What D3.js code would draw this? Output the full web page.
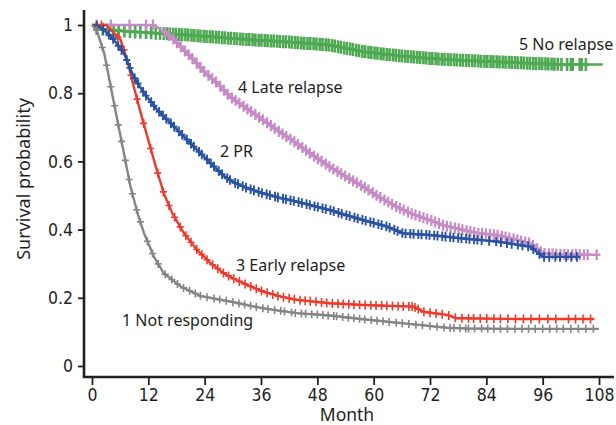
<!DOCTYPE html>
<html>
<head>
<meta charset="utf-8">
<script src="https://cdn.jsdelivr.net/npm/d3@7"></script>
<style>
  body { margin: 0; background: #fff; }
  svg { display: block; }
</style>
</head>
<body>
<div id="chart"></div>
<script>
// curve data (month, survival)
const grayT = [0,1,2.6,4,5.4,6.8,8.2,9.7,11.1,13.2,15.3,18.9,23.2,29.4,36.5,43.6,50.7,57.8,68.5,75.6,80,90,100,108];
const grayS = [1,0.985,0.917,0.819,0.721,0.624,0.526,0.448,0.389,0.32,0.272,0.233,0.205,0.189,0.169,0.155,0.148,0.137,0.122,0.112,0.11,0.109,0.109,0.109];

const redT = [0,3,4.7,6.1,7.5,8.9,10.4,11.8,13.6,15.3,17.1,19.6,22.4,25.3,28.1,30.3,33,36.5,40,43.6,50.7,57.8,68.5,70.6,75.6,77.7,90,107];
const redS = [1,1,0.976,0.956,0.897,0.819,0.741,0.672,0.584,0.506,0.448,0.389,0.34,0.301,0.272,0.255,0.238,0.218,0.204,0.194,0.184,0.179,0.174,0.159,0.15,0.14,0.138,0.138];

const blueT = [0,1.5,2.6,4.7,6.8,8.9,11.1,13.9,17.5,21,24.6,28.1,30,33,36.5,40,43.6,47,50.7,54,57.8,62.8,66.3,72,79.1,86.2,93.3,96.1,104];
const blueS = [1,0.995,0.985,0.956,0.917,0.848,0.8,0.751,0.702,0.653,0.604,0.557,0.54,0.522,0.506,0.493,0.482,0.47,0.457,0.443,0.428,0.409,0.389,0.384,0.374,0.365,0.35,0.32,0.32];

const pinkT = [0,13.2,16.8,19,21.7,24,26.7,29.4,33,36.5,40,43.6,47,50.7,54,57.8,61,64.9,68,72,75,79.1,82,86.2,90,93.3,96.1,100,108.3];
const pinkS = [1,1,0.966,0.935,0.897,0.862,0.829,0.79,0.755,0.721,0.686,0.653,0.618,0.584,0.556,0.526,0.497,0.467,0.447,0.428,0.412,0.399,0.39,0.384,0.372,0.36,0.33,0.327,0.326];

const greenT = [0,1,3,6,10,15,20,25,29.4,36,42,48,50.7,54,57.8,62,66,72,78,86.2,93,100.4,108.8];
const greenS = [1,0.99,0.986,0.983,0.979,0.975,0.971,0.966,0.961,0.955,0.95,0.944,0.941,0.932,0.922,0.915,0.909,0.902,0.897,0.892,0.888,0.884,0.884];

// censoring times (months)
const grayC = [1,2.2,3.1,4,4.8,5.6,6.3,7.1,7.9,8.6,9.5,10.3,11.8,12.9,14.1,15.6,17,18.2,19.5,20.8,22,23.1,24.5,26,27.2,28.6,30,31.3,32.5,33.8,35,36.4,37.5,38.9,40.2,41,42.5,43.3,44.6,45.5,46.8,48,49.2,50.3,51.5,52.1,53.4,54.6,55.8,57,58.1,59.5,60.7,62,63.3,64.8,66.1,67.5,69,70.4,72,73.5,75,76.3,77.1,78.4,79.6,80.2,81.5,83,84.3,85.6,87,88.5,90.1,91.6,93,94.4,96,97.5,99,100.4,102,103.6,105.2,106.8];
const redC = [1,2,5.5,6.8,8.3,9.6,11,12.5,14,15.2,16.4,17.6,18.8,20,21.1,22.3,23.4,24.5,25.7,26.8,28,29.1,30.2,31.4,32.6,33.8,35,36.1,37.3,38.5,39.6,40.8,42,43.1,44.3,45.4,46.5,47.7,48.9,50,51.2,52.4,53.5,54.7,55.8,57,58.2,59.4,60.5,61.7,62.8,64,65.2,66.3,67.5,68.2,68.8,69.5,70.7,72,73.3,74.6,76,77.4,78.8,80.2,81.3,82.7,84.1,85.6,87,88.6,90.2,91.9,93.5,95.3,97.1,98.8,101.5,103,104.6,106.2];
const blueC = [1,2.4,3.6,4.5,5.6,6.3,7.4,8.1,9.1,9.8,10.9,11.5,12.6,13.2,14.3,15.1,15.8,16.8,17.5,18.5,19.2,20.2,21.1,21.7,22.8,23.4,24.5,25.3,26,27,27.7,28.8,29.4,30.5,31.1,32.1,32.8,33.8,34.5,35.5,36.2,37.2,37.9,39,39.6,40.7,41.3,42.3,43,44,44.7,45.7,46.4,47.4,48.1,49.1,49.8,50.8,51.5,52.5,53.2,54.2,54.9,55.9,56.6,57.6,58.3,59.3,60,61,61.7,62.7,63.4,64.4,65.1,66.1,66.8,67.8,68.5,69.5,70.2,71.2,71.9,72.9,73.6,74.6,75.3,76.3,77,78,78.7,79.7,80.4,81.4,82.1,83,84.6,86.1,87.1,88.4,89.4,90.7,91.7,92.9,94,95.3,96.3,97.4,98.7,99.7,101,102.1,103.3];
const pinkC = [1,4,8,11.5,13,15.5,16.4,17.3,18.1,18.9,19.8,20.6,21.4,22.3,23.1,23.9,24.8,25.6,26.4,27.3,28.1,28.9,29.8,30.6,31.4,32.3,33.1,33.9,34.8,35.6,36.4,37.3,38.1,38.9,39.8,40.6,41.4,42.3,43.1,43.9,44.8,45.6,46.4,47.3,48.1,48.9,49.8,50.6,51.4,52.3,53.1,53.9,54.8,55.6,56.4,57.3,58.1,58.9,59.8,60.6,61.4,62.3,63.1,63.9,64.8,65.6,66.4,67.3,68.1,68.9,69.8,70.6,71.4,72.3,73.1,73.9,74.8,75.6,76.4,77.3,78.1,78.9,79.8,80.6,81.4,82.3,83.1,83.9,84.8,85.6,86.4,87.3,88.1,88.9,89.8,90.6,91.4,92.3,93.1,93.9,94.8,95.6,96.4,97.3,98.1,98.9,99.8,100.6,101.4,102.3,103.1,103.9,104.8,105.6,107.5];
const greenC = [1,2.3,3.4,4.6,5.7,6.9,8.1,9.2,10.3,11.5,12.6,13.6,14.5,15.3,16,16.6,17.3,17.9,18.6,19.2,19.9,20.5,21.2,21.8,22.5,23.1,23.8,24.4,25.1,25.7,26.4,27,27.7,28.3,29,29.6,30.3,30.9,31.6,32.2,32.9,33.5,34.2,34.8,35.5,36.1,36.8,37.4,38.1,38.7,39.4,40,40.7,41.3,42,42.6,43.3,43.9,44.6,45.2,45.9,46.5,47.2,47.8,48.5,49.1,49.8,50.4,51.1,51.7,52.4,53,53.7,54.3,55,55.6,56.3,56.9,57.6,58.2,58.9,59.5,60.2,60.8,61.5,62.1,62.8,63.4,64.1,64.7,65.4,66,66.7,67.3,68,68.6,69.3,69.9,70.6,71.2,71.9,72.5,73.2,73.8,74.5,75.1,75.8,76.4,77.1,77.7,78.4,79,79.7,80.3,81,81.6,82.3,82.9,83.6,84.2,84.9,85.5,86.2,86.8,87.5,88.1,88.8,89.4,90.1,90.7,91.4,92,92.7,93.3,94,94.6,95.3,95.9,96.6,97.2,97.9,98.5,99.2,100,101.2,102,102.4,103.9,104.3,105.2];

const groups = ["1 Not responding", "2 PR", "3 Early relapse", "4 Late relapse", "5 No relapse"];
const xTicks = [0, 12, 24, 36, 48, 60, 72, 84, 96, 108];
const yTicks = [0, 0.2, 0.4, 0.6, 0.8, 1];

const width = 616, height = 425;

const svg = d3.create('svg')
  .attr('width', width)
  .attr('height', height);

const xScale = d3.scaleLinear().domain([0, 108]).range([92, 599]);
const yScale = d3.scaleLinear().domain([0, 1]).range([366, 25]);

// drawn from 5 down to 1, so the lower numbers sit on top
const series = [
  {name: groups[4], t: greenT, s: greenS, c: greenC, color: '#4ea952', arm: 6.5, sw: 2.6, lx: 519, ly: 50},
  {name: groups[3], t: pinkT, s: pinkS, c: pinkC, color: '#c58cc5', arm: 5.5, sw: 2.2, lx: 238, ly: 93},
  {name: groups[2], t: redT, s: redS, c: redC, color: '#ed3a2c', arm: 4.5, sw: 1.6, lx: 236, ly: 271},
  {name: groups[1], t: blueT, s: blueS, c: blueC, color: '#2a52a3', arm: 4.8, sw: 1.9, lx: 220, ly: 157},
  {name: groups[0], t: grayT, s: grayS, c: grayC, color: '#858585', arm: 4, sw: 1.6, lx: 122, ly: 326}
];

const line = d3.line()
  .x(d => xScale(d[0]))
  .y(d => yScale(d[1]));

const plot = svg.append('g');
series.forEach(g => {
  const pts = g.t.map((t, i) => [t, g.s[i]]);
  plot.append('path')
    .attr('d', line(pts))
    .attr('fill', 'none')
    .attr('stroke', g.color)
    .attr('stroke-width', 2.4);

  // censor marks sit on the curve at their time
  const marks = g.c.map(t => {
    const i = d3.bisectRight(g.t, t) - 1;
    const j = Math.min(i + 1, g.t.length - 1);
    const f = j === i ? 0 : (t - g.t[i]) / (g.t[j] - g.t[i]);
    return [t, g.s[i] + (g.s[j] - g.s[i]) * f];
  });
  plot.append('g')
    .selectAll('path')
    .data(marks)
    .join('path')
    .attr('d', d => {
      const cx = xScale(d[0]), cy = yScale(d[1]), a = g.arm;
      return `M${cx},${cy - a}V${cy + a}M${cx - 3.5},${cy}H${cx + 3.5}`;
    })
    .attr('stroke', g.color)
    .attr('stroke-width', g.sw)
    .attr('fill', 'none');
});

// y-axis
const yAxis = svg.append('g')
  .attr('transform', 'translate(84,0)')
  .call(d3.axisLeft(yScale).tickValues(yTicks).tickSize(6).tickPadding(5)
    .tickFormat(d => d === 0 || d === 1 ? d : d.toFixed(1)));
yAxis.select('.domain').remove();
yAxis.selectAll('line').attr('stroke', '#231f20').attr('stroke-width', 1.8);
yAxis.selectAll('text')
  .attr('font-family', '"Liberation Sans Narrow", "DejaVu Sans Condensed", sans-serif')
  .attr('font-size', 17.5)
  .attr('fill', '#231f20');

// x-axis
const xAxis = svg.append('g')
  .attr('transform', 'translate(0,377)')
  .call(d3.axisBottom(xScale).tickValues(xTicks).tickSize(8).tickPadding(4));
xAxis.select('.domain').remove();
xAxis.selectAll('line').attr('stroke', '#231f20').attr('stroke-width', 1.8);
xAxis.selectAll('text')
  .attr('font-family', '"Liberation Sans Narrow", "DejaVu Sans Condensed", sans-serif')
  .attr('font-size', 17.5)
  .attr('fill', '#231f20');

svg.append('path')
  .attr('d', 'M84,10V377H614')
  .attr('fill', 'none')
  .attr('stroke', '#231f20')
  .attr('stroke-width', 2.6);

// axis titles
svg.append('text')
  .attr('transform', 'translate(30,179) rotate(-90)')
  .attr('text-anchor', 'middle')
  .attr('font-family', '"Noto Sans", sans-serif')
  .attr('font-size', 18)
  .attr('fill', '#231f20')
  .text('Survival probability');

svg.append('text')
  .attr('x', 347)
  .attr('y', 421)
  .attr('text-anchor', 'middle')
  .attr('font-family', '"Noto Sans", sans-serif')
  .attr('font-size', 17.5)
  .attr('fill', '#231f20')
  .text('Month');

// curve labels
svg.append('g')
  .selectAll('text')
  .data(series)
  .join('text')
  .attr('x', d => d.lx)
  .attr('y', d => d.ly)
  .attr('font-family', '"Noto Sans", sans-serif')
  .attr('font-size', 16)
  .attr('fill', '#231f20')
  .text(d => d.name);

document.getElementById('chart').appendChild(svg.node());
</script>
</body>
</html>
